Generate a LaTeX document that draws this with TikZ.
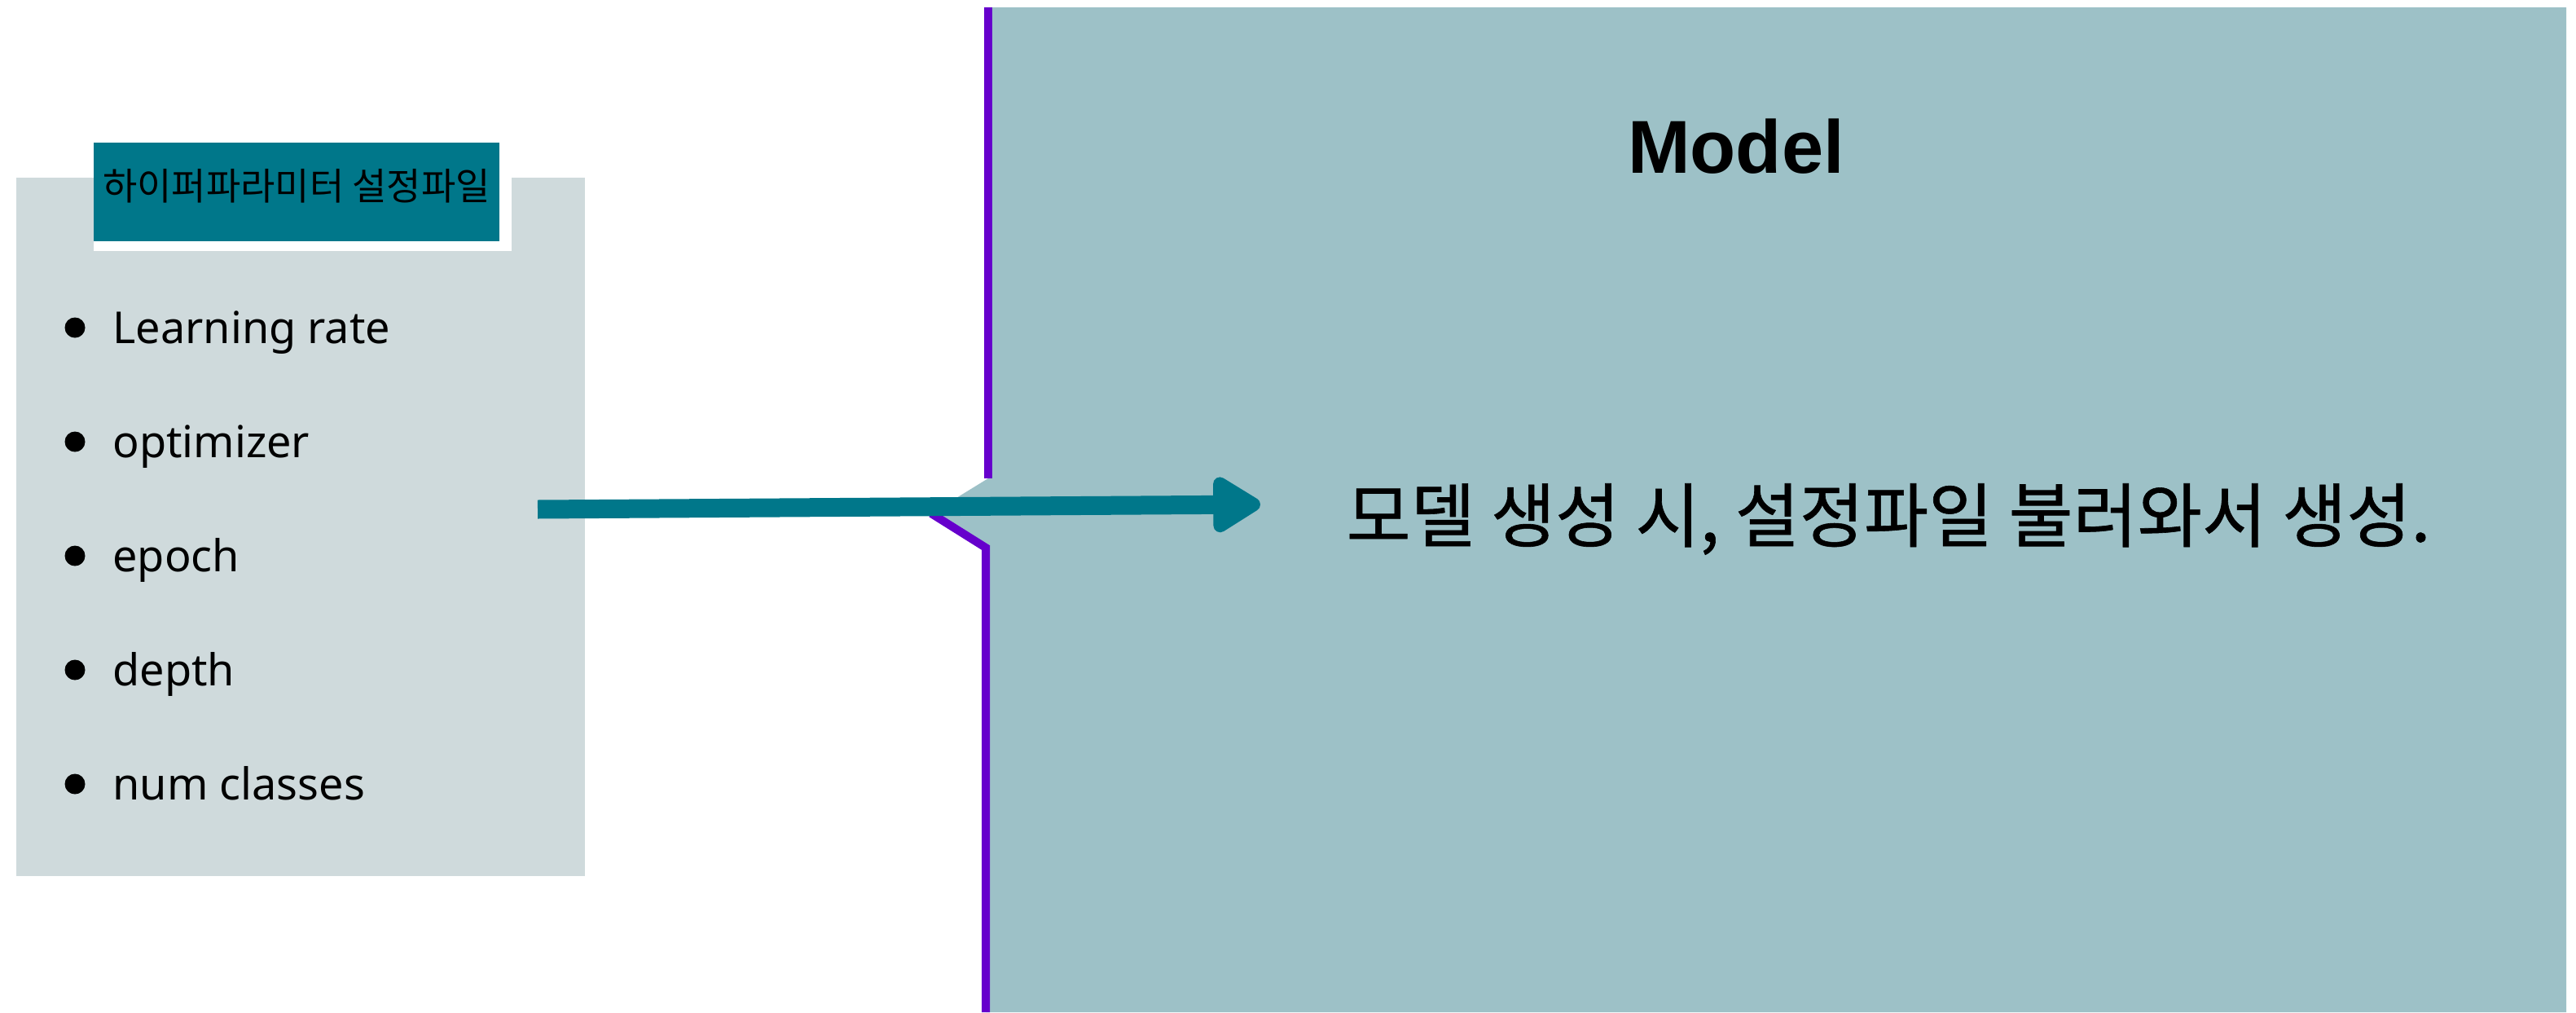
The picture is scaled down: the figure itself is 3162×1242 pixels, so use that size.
\documentclass[tikz,border=0pt]{standalone}
\usepackage{fontspec}
\setmainfont{Noto Sans}
\newfontfamily\kr{Noto Sans CJK KR}
\newfontfamily\krm{Noto Sans CJK KR}[FakeBold=0.7]
\newfontfamily\titlefont{Liberation Sans}
\usetikzlibrary{arrows.meta}
\definecolor{boxgray}{HTML}{CFDADC}
\definecolor{headteal}{HTML}{00778A}
\definecolor{panelblue}{HTML}{9DC1C7}
\definecolor{edgepurple}{HTML}{6600CC}
\tikzset{
  item/.style={anchor=base west, inner sep=0pt, font=\fontsize{27}{32}\selectfont},
  bulletdot/.style={circle, fill=black, inner sep=0pt, minimum size=12.5pt},
  flow/.style={line width=11.5pt, draw=headteal, -{Triangle[length=33pt,width=38pt,round]}},
}
\begin{document}
\begin{tikzpicture}[x=0.5pt,y=-0.5pt]
\useasboundingbox (0,0) rectangle (3162,1242);
\fill[white] (0,0) rectangle (3162,1242);
% left box
\fill[boxgray] (20,218) rectangle (718,1075);
\fill[white] (115,175) rectangle (628,308);
\fill[headteal] (115,175) rectangle (613,296);
\node[inner sep=0pt, font=\kr\fontsize{23}{26}\selectfont] (head) at (364,228) {하이퍼파라미터 설정파일};
% bullet items
\foreach \y/\t/\n in {402/Learning rate/a, 542/optimizer/b, 682/epoch/c, 822/depth/d, 962/num classes/e}{
  \node[bulletdot] (dot\n) at (92,\y) {};
  \node[item] (it\n) at (138,\y+19) {\t};
}
% model panel
\fill[panelblue] (1213,9) -- (3150,9) -- (3150,1242) -- (1210,1242) -- (1210,672) -- (1143,630) -- (1213,587) -- cycle;
\draw[edgepurple, line width=5pt] (1213,9) -- (1213,587);
\draw[edgepurple, line width=5pt] (1143,630) -- (1210,672) -- (1210,1242);
\node[font=\titlefont\bfseries\fontsize{46}{52}\selectfont, inner sep=0pt, anchor=base] (model) at (2131,212) {Model};
\node[font=\krm\fontsize{43}{48}\selectfont, inner sep=0pt] (desc) at (2318,637) {모델 생성 시, 설정파일 불러와서 생성.};
% arrow
\coordinate (from) at (660,625);
\coordinate (to) at (1547,619);
\draw[flow] (from) -- (to);
\end{tikzpicture}
\end{document}
